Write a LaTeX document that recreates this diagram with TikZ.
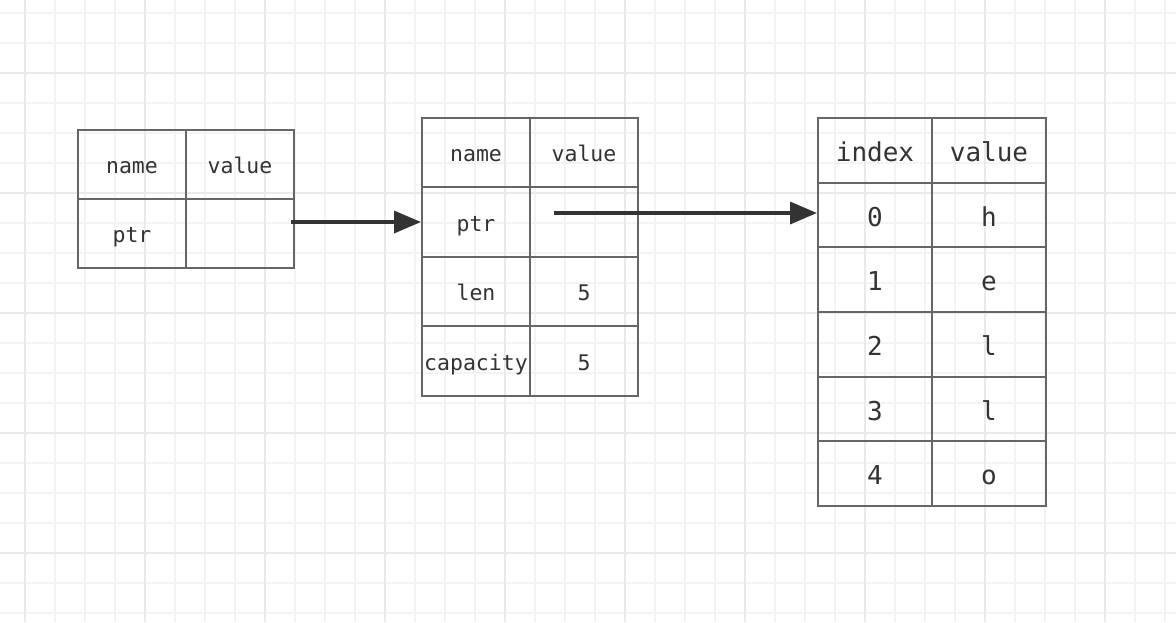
\documentclass[tikz,border=0pt]{standalone}
\usepackage{fontspec}
\newfontfamily\cellfont{DejaVu Sans Mono}
\usetikzlibrary{arrows.meta}
\definecolor{gridminor}{HTML}{F3F3F3}
\definecolor{gridmajor}{HTML}{EAEAEA}
\definecolor{cellline}{HTML}{666666}
\definecolor{inkdark}{HTML}{333333}
\tikzset{
    cell/.style={draw=cellline, line width=2pt, text=inkdark, inner sep=0pt,
        text height=18.4pt, text depth=0pt,
        minimum width=108pt, minimum height=69.5pt, font=\cellfont\fontsize{21.5}{24}\selectfont},
    bigcell/.style={cell, minimum width=114pt, minimum height=64.7pt,
        text height=22pt, font=\cellfont\fontsize{26}{30}\selectfont},
    ptrarrow/.style={draw=inkdark, line width=3.5pt, -{Triangle[length=27pt,width=22pt]}}
}

\begin{document}
\begin{tikzpicture}[x=1pt, y=-1pt]
        \useasboundingbox (0,0) rectangle (1176,622);
        \fill[white] (0,0) rectangle (1176,622);
        %background grid
        \foreach \gx in {25,55,...,1175} \draw[gridminor, line width=1.6pt] (\gx,0) -- (\gx,622);
        \foreach \gy in {13,43,...,613} \draw[gridminor, line width=1.6pt] (0,\gy) -- (1176,\gy);
        \foreach \gx in {25,145,...,1175} \draw[gridmajor, line width=1.6pt] (\gx,0) -- (\gx,622);
        \foreach \gy in {73,193,...,613} \draw[gridmajor, line width=1.6pt] (0,\gy) -- (1176,\gy);
        
        %stack variable
        \node[cell, minimum height=69pt](sname) at (132,164.5){name};
        \node[cell, minimum height=69pt](svalue) at (240,164.5){value};
        \node[cell, minimum height=69pt](sptr) at (132,233.5){ptr};
        \node[cell, minimum height=69pt](sptrval) at (240,233.5){};
        
        %string header
        \node[cell](hname) at (476,152.5){name};
        \node[cell](hvalue) at (584,152.5){value};
        \node[cell](hptr) at (476,222){ptr};
        \node[cell](hptrval) at (584,222){};
        \node[cell](hlen) at (476,291.5){len};
        \node[cell](hlenval) at (584,291.5){5};
        \node[cell](hcap) at (476,361){capacity};
        \node[cell](hcapval) at (584,361){5};
        
        %heap buffer
        \node[bigcell](bindex) at (875,150.3){index};
        \node[bigcell](bvalue) at (989,150.3){value};
        \foreach \i/\ch in {0/h,1/e,2/l,3/l,4/o}{
            \node[bigcell](bi\i) at (875,215+64.7*\i){\i};
            \node[bigcell](bc\i) at (989,215+64.7*\i){\ch};
        }
        
        %pointers
        \coordinate (p1) at (291,222);
        \coordinate (p2) at (554,213);
        \draw[ptrarrow] (p1) -- (hptr.west);
        \draw[ptrarrow] (p2) -- (p2 -| bi0.west);
        
\end{tikzpicture}
\end{document}
